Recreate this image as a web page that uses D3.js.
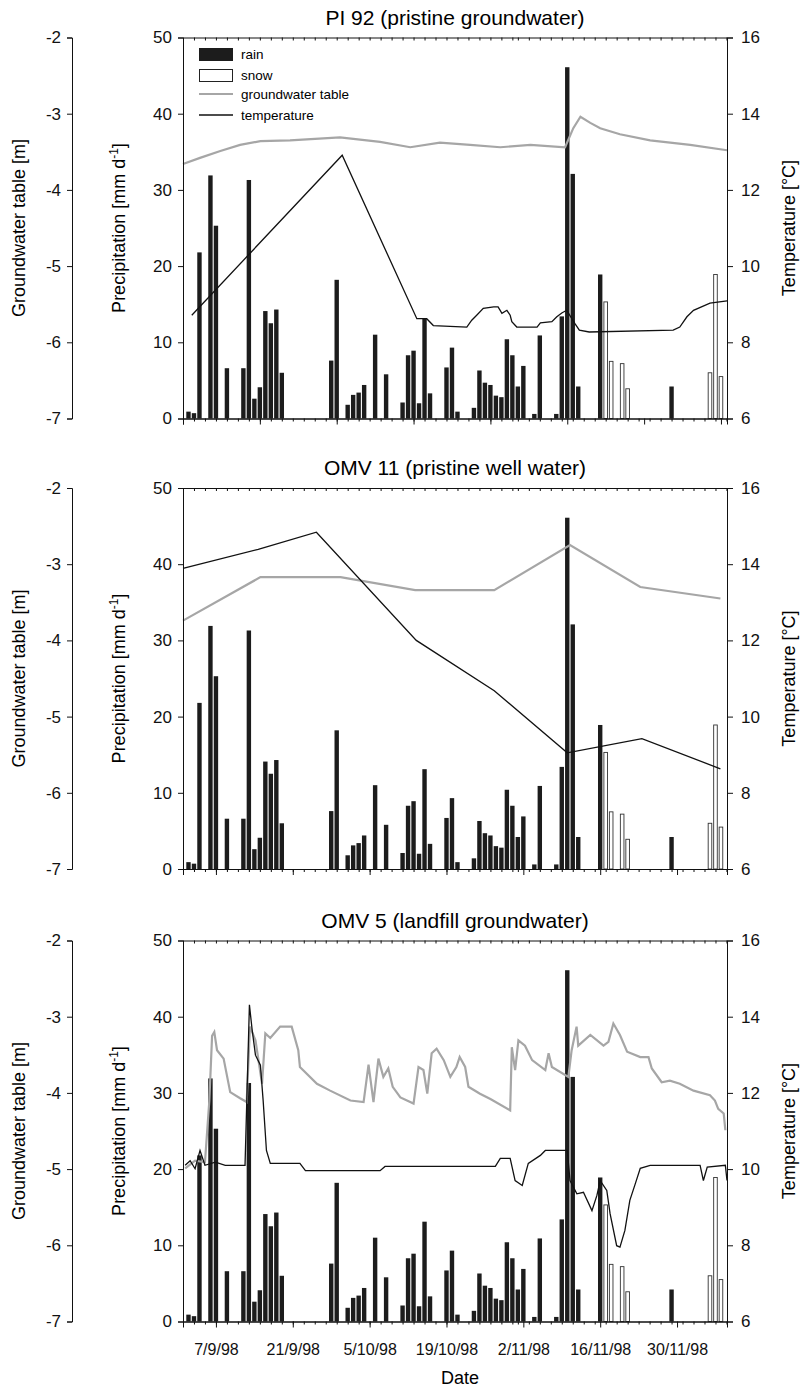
<!DOCTYPE html>
<html>
<head>
<meta charset="utf-8">
<script src="https://cdn.jsdelivr.net/npm/d3@7"></script>
<style>
  body { margin: 0; background: #fff; }
  svg { font-family: "Liberation Sans", Arial, sans-serif; }
</style>
</head>
<body>
<div id="chart"></div>
<script>
// precipitation (same for all three panels)
var rainDates = ["1998-09-02", "1998-09-03", "1998-09-04", "1998-09-06", "1998-09-07", "1998-09-09",
  "1998-09-12", "1998-09-13", "1998-09-14", "1998-09-15", "1998-09-16", "1998-09-17", "1998-09-18",
  "1998-09-19", "1998-09-28", "1998-09-29", "1998-10-01", "1998-10-02", "1998-10-03", "1998-10-04",
  "1998-10-06", "1998-10-08", "1998-10-11", "1998-10-12", "1998-10-13", "1998-10-14", "1998-10-15",
  "1998-10-16", "1998-10-19", "1998-10-20", "1998-10-21", "1998-10-24", "1998-10-25", "1998-10-26",
  "1998-10-27", "1998-10-28", "1998-10-29", "1998-10-30", "1998-10-31", "1998-11-01", "1998-11-02",
  "1998-11-04", "1998-11-05", "1998-11-08", "1998-11-09", "1998-11-10", "1998-11-11", "1998-11-12",
  "1998-11-16", "1998-11-29"];
var rainValues = [0.9, 0.7, 21.8, 31.9, 25.3, 6.6, 6.6, 31.3, 2.6, 4.1, 14.1, 12.5, 14.3, 6.0, 7.6, 18.2,
  1.8, 3.1, 3.4, 4.4, 11.0, 5.8, 2.1, 8.3, 8.9, 2.0, 13.1, 3.3, 6.7, 9.3, 0.9, 1.4, 6.3, 4.7, 4.4, 3.0,
  2.8, 10.4, 8.3, 4.2, 6.9, 0.6, 10.9, 0.6, 13.4, 46.1, 32.1, 4.2, 18.9, 4.2];
var snowDates = ["1998-11-17", "1998-11-18", "1998-11-20", "1998-11-21", "1998-12-06", "1998-12-07", "1998-12-08"];
var snowValues = [15.3, 7.5, 7.2, 3.9, 6.0, 18.9, 5.5];

// series times are given as days after 1/9/98
// PI 92
var gw1Days = [0, 3.1, 6.8, 10.4, 14.1, 19.5, 28.6, 35.9, 41.4, 46.8, 52.3, 57.8, 63.3, 69.6, 71.1, 72.4,
  74.2, 76.0, 79.6, 85.1, 92.4, 99.1];
var gw1Values = [-3.66, -3.58, -3.49, -3.41, -3.36, -3.35, -3.31, -3.37, -3.44, -3.38, -3.41, -3.44, -3.41,
  -3.44, -3.19, -3.04, -3.12, -3.19, -3.27, -3.35, -3.41, -3.48];
var temp1Days = [1.6, 29.0, 42.6, 44.4, 45.6, 51.7, 52.6, 53.5, 54.7, 56.6, 57.4, 58.1, 59.0, 59.6, 59.9,
  60.8, 64.5, 65.1, 67.2, 68.1, 69.0, 69.9, 71.4, 72.2, 74.0, 89.3, 90.5, 91.8, 93.0, 96.0, 99.1];
var temp1Values = [8.71, 12.91, 8.62, 8.62, 8.44, 8.40, 8.58, 8.71, 8.89, 8.93, 8.93, 8.76, 8.84, 8.71, 8.54,
  8.40, 8.40, 8.51, 8.54, 8.67, 8.77, 8.84, 8.49, 8.32, 8.27, 8.32, 8.40, 8.67, 8.84, 9.03, 9.09];

// OMV 11
var gw2Days = [0, 14.1, 28.7, 42.3, 56.7, 70.5, 83.3, 97.9];
var gw2Values = [-3.74, -3.17, -3.17, -3.34, -3.34, -2.75, -3.30, -3.45];
var temp2Days = [0, 13.7, 24.3, 42.5, 56.7, 70.0, 83.6, 97.9];
var temp2Values = [13.89, 14.39, 14.84, 12.0, 10.68, 9.05, 9.42, 8.63];

// OMV 5
var gw3Days = [0.4, 2.2, 4.0, 4.8, 5.3, 5.7, 6.2, 7.4, 8.6, 10.4, 11.6, 12.2, 13.2, 14.4, 15.0, 15.9, 17.7,
  19.8, 21.0, 21.3, 24.4, 26.8, 30.5, 32.9, 33.8, 34.7, 35.6, 36.5, 37.4, 38.2, 39.6, 42.0, 42.9, 43.8,
  44.5, 45.3, 46.2, 47.5, 48.7, 49.8, 50.4, 51.4, 52.0, 54.1, 56.0, 59.6, 59.9, 60.5, 61.1, 62.3, 63.6,
  66.0, 66.6, 67.2, 70.2, 70.8, 71.7, 72.0, 74.2, 76.6, 77.5, 78.4, 79.6, 80.9, 83.3, 84.8, 85.4, 87.2,
  88.7, 90.5, 93.0, 96.0, 96.9, 97.5, 98.5, 98.8];
var gw3Values = [-4.99, -4.89, -4.91, -4.10, -3.25, -3.20, -3.44, -3.55, -3.99, -4.07, -4.12, -3.13, -3.31,
  -3.88, -3.22, -3.28, -3.13, -3.13, -3.44, -3.66, -3.88, -3.97, -4.10, -4.12, -3.63, -4.12, -3.55, -3.79,
  -3.68, -3.92, -4.06, -4.14, -3.66, -3.70, -4.01, -3.48, -3.42, -3.57, -3.79, -3.66, -3.53, -3.66, -3.92,
  -4.01, -4.08, -4.23, -3.40, -3.70, -3.31, -3.38, -3.57, -3.70, -3.48, -3.66, -3.79, -3.44, -3.13, -3.38,
  -3.24, -3.38, -3.33, -3.09, -3.24, -3.46, -3.53, -3.53, -3.68, -3.86, -3.84, -3.88, -3.97, -4.03, -4.10,
  -4.21, -4.27, -4.49];
var temp3Days = [0.4, 1.3, 2.2, 3.1, 4.0, 5.9, 7.7, 11.3, 12.1, 12.6, 13.2, 14.1, 14.6, 15.2, 15.9, 21.3,
  22.3, 35.9, 36.8, 56.9, 57.8, 59.6, 60.5, 61.8, 62.9, 65.1, 66.0, 70.0, 70.5, 71.75, 72.95, 74.5, 75.4,
  76.0, 77.2, 77.8, 79.0, 79.6, 80.5, 81.4, 82.4, 83.3, 85.1, 94.2, 94.8, 95.5, 98.8, 99.1];
var temp3Values = [10.1, 10.22, 10.01, 10.49, 10.1, 10.18, 10.1, 10.1, 14.31, 13.65, 12.99, 12.73, 11.8,
  10.49, 10.15, 10.15, 9.96, 9.96, 10.07, 10.07, 10.28, 10.28, 9.7, 9.57, 10.15, 10.36, 10.49, 10.49, 9.7,
  9.35, 9.39, 8.91, 9.31, 9.70, 9.44, 8.83, 7.99, 7.95, 8.39, 9.18, 9.62, 10.02, 10.1, 10.1, 9.7, 10.05,
  10.1, 9.7];

var gwTicks = [-7, -6, -5, -4, -3, -2];
var precipTicks = [0, 10, 20, 30, 40, 50];
var tempTicks = [6, 8, 10, 12, 14, 16];
var dateTicksTop = ["1998-09-01", "1998-09-15", "1998-09-29", "1998-10-13", "1998-10-27", "1998-11-10", "1998-11-24", "1998-12-08"];
var dateTicks = ["1998-09-07", "1998-09-21", "1998-10-05", "1998-10-19", "1998-11-02", "1998-11-16", "1998-11-30"];

var svgWidth = 801;
var svgHeight = 1388;
var left = 183, right = 727, gwAxisX = 72;
var panelHeight = 381;

var svg = d3.select("#chart")
  .append("svg")
  .attr("width", svgWidth)
  .attr("height", svgHeight);

var t0 = Date.UTC(1998, 8, 1);
var dayDate = d => new Date(t0 + d * 864e5);
var parse = d3.utcParse("%Y-%m-%d");
var fmt = d3.utcFormat("%-d/%-m/%y");
var plain = d => String(d);   // keeps the ascii hyphen as minus, like the original

var x = d3.scaleUtc()
  .domain([dayDate(0), dayDate(99.1)])
  .range([left, right]);

var rain = rainDates.map((d, i) => ({ date: parse(d), value: rainValues[i] }));
var snow = snowDates.map((d, i) => ({ date: parse(d), value: snowValues[i] }));
var barW = 4.4;

var panels = [
  { title: "PI 92 (pristine groundwater)", top: 37.5, gwD: gw1Days, gwV: gw1Values, tD: temp1Days, tV: temp1Values, ticks: dateTicksTop, legend: true },
  { title: "OMV 11 (pristine well water)", top: 488, gwD: gw2Days, gwV: gw2Values, tD: temp2Days, tV: temp2Values, ticks: dateTicks },
  { title: "OMV 5 (landfill groundwater)", top: 940.5, gwD: gw3Days, gwV: gw3Values, tD: temp3Days, tV: temp3Values, ticks: dateTicks, labels: true }
];

panels.forEach(function(p) {
  var g = svg.append("g");
  var bottom = p.top + panelHeight;

  var yP = d3.scaleLinear().domain([0, 50]).range([bottom, p.top]);
  var yG = d3.scaleLinear().domain([-7, -2]).range([bottom, p.top]);
  var yT = d3.scaleLinear().domain([6, 16]).range([bottom, p.top]);

  // title
  g.append("text")
    .attr("x", (left + right) / 2)
    .attr("y", p.top - 13)
    .attr("text-anchor", "middle")
    .attr("font-size", 21)
    .text(p.title);

  // bars
  g.selectAll(".rain")
    .data(rain)
    .enter()
    .append("rect")
    .attr("x", d => x(d.date) - barW / 2)
    .attr("y", d => yP(d.value))
    .attr("width", barW)
    .attr("height", d => bottom - yP(d.value))
    .attr("fill", "#1c1c1c");

  g.selectAll(".snow")
    .data(snow)
    .enter()
    .append("rect")
    .attr("x", d => x(d.date) - barW / 2 + 0.4)
    .attr("y", d => yP(d.value))
    .attr("width", barW - 0.8)
    .attr("height", d => bottom - yP(d.value))
    .attr("fill", "#fff")
    .attr("stroke", "#333")
    .attr("stroke-width", 0.9);

  // groundwater table
  var gwLine = d3.line()
    .x(d => x(dayDate(d[0])))
    .y(d => yG(d[1]));
  g.append("path")
    .datum(p.gwD.map((d, i) => [d, p.gwV[i]]))
    .attr("d", gwLine)
    .attr("fill", "none")
    .attr("stroke", "#a6a6a6")
    .attr("stroke-width", 2.2);

  // temperature
  var tLine = d3.line()
    .x(d => x(dayDate(d[0])))
    .y(d => yT(d[1]));
  g.append("path")
    .datum(p.tD.map((d, i) => [d, p.tV[i]]))
    .attr("d", tLine)
    .attr("fill", "none")
    .attr("stroke", "#111")
    .attr("stroke-width", 1.3);

  // frame axes
  var minor = d3.utcDay.every(2).range(dayDate(0), dayDate(99.2));

  var bottomAxis = d3.axisBottom(x).tickValues(minor).tickSize(3).tickFormat("");
  g.append("g")
    .attr("transform", `translate(0,${bottom})`)
    .call(bottomAxis);
  var majorAxis = d3.axisBottom(x).tickValues(p.ticks.map(parse)).tickSize(6)
    .tickFormat(p.labels ? fmt : "");
  var major = g.append("g")
    .attr("transform", `translate(0,${bottom})`)
    .call(majorAxis);
  major.selectAll("text").attr("font-size", 16).attr("dy", "1.55em");

  var topAxis = d3.axisBottom(x).tickValues(minor).tickSize(3).tickFormat("");
  g.append("g")
    .attr("transform", `translate(0,${p.top})`)
    .call(topAxis);

  var leftAxis = d3.axisLeft(yP).tickValues(precipTicks).tickSize(5).tickPadding(6).tickFormat(plain);
  var la = g.append("g")
    .attr("transform", `translate(${left},0)`)
    .call(leftAxis);
  la.selectAll("text").attr("font-size", 17);

  var rightAxis = d3.axisRight(yT).tickValues(tempTicks).tickSize(6).tickPadding(8).tickFormat(plain);
  var ra = g.append("g")
    .attr("transform", `translate(${right},0)`)
    .call(rightAxis);
  ra.selectAll("text").attr("font-size", 17);

  var gwAxis = d3.axisLeft(yG).tickValues(gwTicks).tickSize(5).tickPadding(6).tickFormat(plain);
  var ga = g.append("g")
    .attr("transform", `translate(${gwAxisX},0)`)
    .call(gwAxis);
  ga.selectAll("text").attr("font-size", 17);

  g.selectAll(".domain").attr("stroke", "#111");
  g.selectAll(".tick line").attr("stroke", "#111");
  g.selectAll(".tick text").attr("fill", "#111").attr("font-family", "Liberation Sans, Arial, sans-serif");

  // axis titles
  var mid = (p.top + bottom) / 2;
  g.append("text")
    .attr("transform", `translate(25,${mid}) rotate(-90)`)
    .attr("text-anchor", "middle")
    .attr("font-size", 18)
    .text("Groundwater table [m]");

  var pl = g.append("text")
    .attr("transform", `translate(125,${mid}) rotate(-90)`)
    .attr("text-anchor", "middle")
    .attr("font-size", 18)
    .text("Precipitation [mm d");
  pl.append("tspan").attr("font-size", 12).attr("dy", -7).text("-1");
  pl.append("tspan").attr("dy", 7).text("]");

  g.append("text")
    .attr("transform", `translate(795,${mid}) rotate(-90)`)
    .attr("text-anchor", "middle")
    .attr("font-size", 18)
    .text("Temperature [°C]");

  // legend
  if (p.legend) {
    var lg = g.append("g").attr("font-size", 13.5);
    lg.append("rect").attr("x", 199).attr("y", 48).attr("width", 34).attr("height", 13).attr("fill", "#1c1c1c");
    lg.append("text").attr("x", 241).attr("y", 59).text("rain");
    lg.append("rect").attr("x", 199.5).attr("y", 69.5).attr("width", 33).attr("height", 12).attr("fill", "#fff").attr("stroke", "#222");
    lg.append("text").attr("x", 241).attr("y", 79.5).text("snow");
    lg.append("line").attr("x1", 199).attr("x2", 233).attr("y1", 94).attr("y2", 94).attr("stroke", "#a6a6a6").attr("stroke-width", 2);
    lg.append("text").attr("x", 241).attr("y", 98.5).text("groundwater table");
    lg.append("line").attr("x1", 199).attr("x2", 233).attr("y1", 115).attr("y2", 115).attr("stroke", "#111").attr("stroke-width", 1.3);
    lg.append("text").attr("x", 241).attr("y", 119.5).text("temperature");
  }
});

svg.append("text")
  .attr("x", 460)
  .attr("y", 1384)
  .attr("text-anchor", "middle")
  .attr("font-size", 18)
  .text("Date");
</script>
</body>
</html>
